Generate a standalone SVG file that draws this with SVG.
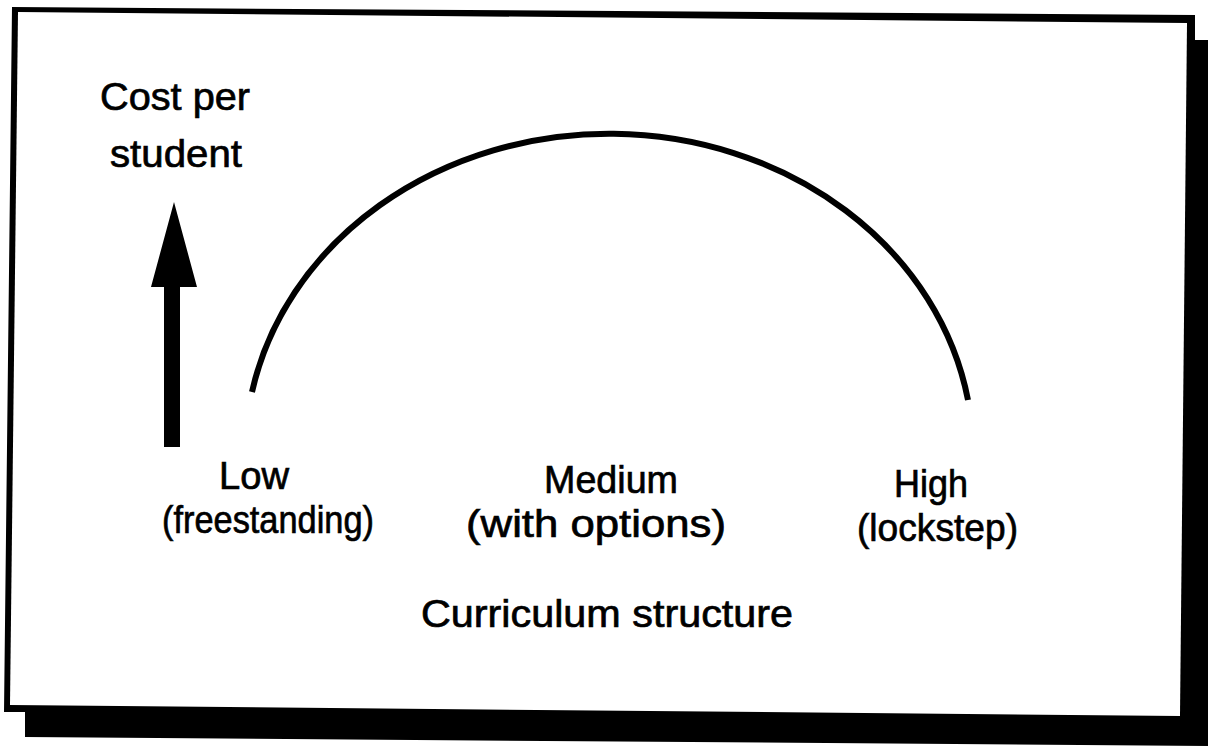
<svg xmlns="http://www.w3.org/2000/svg" width="1208" height="746" viewBox="0 0 1208 746">
  <style>
    .lbl { font-family: "Liberation Sans Narrow", "Liberation Sans", Arial, sans-serif; font-size: 39px; fill: #000; stroke: #000; stroke-width: 0.7; }
    .curve { fill: none; stroke: #000; stroke-width: 6; stroke-linecap: butt; }
  </style>
  <rect width="1208" height="746" fill="#fff"/>
  <g id="frame">
    <polygon points="12,7 1195,15 1195,40 1208,40 1208,746 25,737 25,712 4,712" fill="#000"/>
    <polygon points="18,12 1187,23 1180,716 10,705" fill="#fff"/>
  </g>
  <g id="axis-arrow">
    <polygon points="174,202 197,287 180,287 180,447 164,447 164,287 151,287" fill="#000"/>
  </g>
  <g id="y-label">
    <text class="lbl" x="100" y="110" textLength="150" lengthAdjust="spacingAndGlyphs">Cost per</text>
    <text class="lbl" x="110" y="167" textLength="132" lengthAdjust="spacingAndGlyphs">student</text>
  </g>
  <g id="connectors">
    <path class="curve" d="M252,392 A364,320 0 0 1 968,400"/>
  </g>
  <g id="low">
    <text class="lbl" x="219" y="489" textLength="70" lengthAdjust="spacingAndGlyphs">Low</text>
    <text class="lbl" x="162" y="533" textLength="212" lengthAdjust="spacingAndGlyphs">(freestanding)</text>
  </g>
  <g id="medium">
    <text class="lbl" x="544" y="493" textLength="134" lengthAdjust="spacingAndGlyphs">Medium</text>
    <text class="lbl" x="466" y="537" textLength="260" lengthAdjust="spacingAndGlyphs">(with options)</text>
  </g>
  <g id="high">
    <text class="lbl" x="894" y="497" textLength="74" lengthAdjust="spacingAndGlyphs">High</text>
    <text class="lbl" x="857" y="541" textLength="161" lengthAdjust="spacingAndGlyphs">(lockstep)</text>
  </g>
  <g id="x-label">
    <text class="lbl" x="421" y="627" textLength="372" lengthAdjust="spacingAndGlyphs">Curriculum structure</text>
  </g>
</svg>
